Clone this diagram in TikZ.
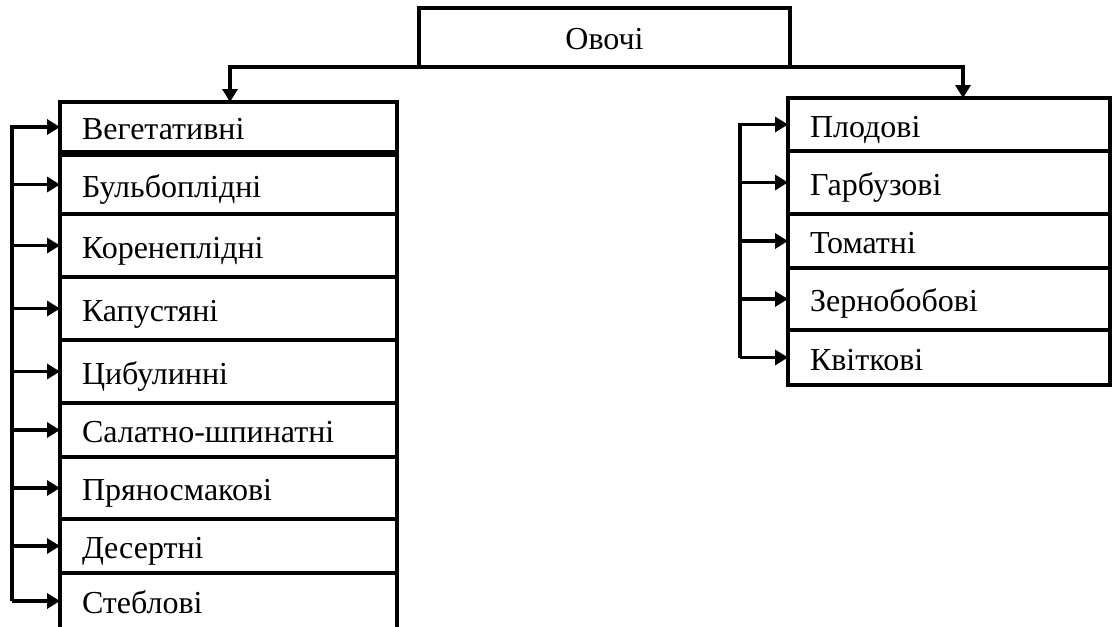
\documentclass[tikz,border=0pt]{standalone}
\usepackage{fontspec}
\setmainfont{Liberation Serif}
\usetikzlibrary{arrows.meta}
\tikzset{
  kind/.style={draw, line width=3.5pt, rectangle, anchor=north west, outer sep=0pt,
    inner xsep=22pt, inner ysep=0pt, text height=28pt, text depth=3pt,
    font=\fontsize{32}{36}\selectfont},
  lkind/.style={kind, align=left, minimum width=337pt, text width=293pt},
  rkind/.style={kind, align=left, minimum width=322pt, text width=278pt},
  feed/.style={line width=3.2pt, -{Triangle[length=13pt,width=15pt]}},
}
\begin{document}
\begin{tikzpicture}[x=1pt, y=-1pt]
  \useasboundingbox (0,0) rectangle (1118,626);
  % head
  \node[kind, align=center, minimum width=371pt, minimum height=59pt, text width=327pt] (head) at (419,8) {Овочі};
  % left column
  \node[lkind, minimum height=50pt] (veg) at (60,102) {Вегетативні};
  \node[lkind, minimum height=59pt] (bulb) at (60,155) {Бульбоплідні};
  \node[lkind, minimum height=63pt] (koren) at (60,214) {Коренеплідні};
  \node[lkind, minimum height=63pt] (kapust) at (60,277) {Капустяні};
  \node[lkind, minimum height=63pt] (tsyb) at (60,340) {Цибулинні};
  \node[lkind, minimum height=54pt] (salat) at (60,403) {Салатно-шпинатні};
  \node[lkind, minimum height=62pt] (pryan) at (60,457) {Пряносмакові};
  \node[lkind, minimum height=54pt] (deser) at (60,519) {Десертні};
  \node[lkind, minimum height=56pt] (stebl) at (60,573) {Стеблові};
  % right column
  \node[rkind, minimum height=53pt] (plod) at (788,98) {Плодові};
  \node[rkind, minimum height=63pt] (garb) at (788,151) {Гарбузові};
  \node[rkind, minimum height=54pt] (tomat) at (788,214) {Томатні};
  \node[rkind, minimum height=62pt] (zern) at (788,268) {Зернобобові};
  \node[rkind, minimum height=55pt] (kvit) at (788,330) {Квіткові};
  % connectors
  \coordinate (lbus) at (12,0);
  \coordinate (rbus) at (740,0);
  \draw[feed] (head.south) -| ([xshift=1.5pt]veg.north);
  \draw[feed] (head.south) -| ([xshift=14pt]plod.north);
  \draw[feed] (stebl.west -| lbus) |- (veg.west);
  \draw[feed] (bulb.west -| lbus) -- (bulb.west);
  \draw[feed] (koren.west -| lbus) -- (koren.west);
  \draw[feed] (kapust.west -| lbus) -- (kapust.west);
  \draw[feed] (tsyb.west -| lbus) -- (tsyb.west);
  \draw[feed] (salat.west -| lbus) -- (salat.west);
  \draw[feed] (pryan.west -| lbus) -- (pryan.west);
  \draw[feed] (deser.west -| lbus) -- (deser.west);
  \draw[feed] (stebl.west -| lbus) -- (stebl.west);
  \draw[feed] (kvit.west -| rbus) |- (plod.west);
  \draw[feed] (garb.west -| rbus) -- (garb.west);
  \draw[feed] (tomat.west -| rbus) -- (tomat.west);
  \draw[feed] (zern.west -| rbus) -- (zern.west);
  \draw[feed] (kvit.west -| rbus) -- (kvit.west);
\end{tikzpicture}
\end{document}
